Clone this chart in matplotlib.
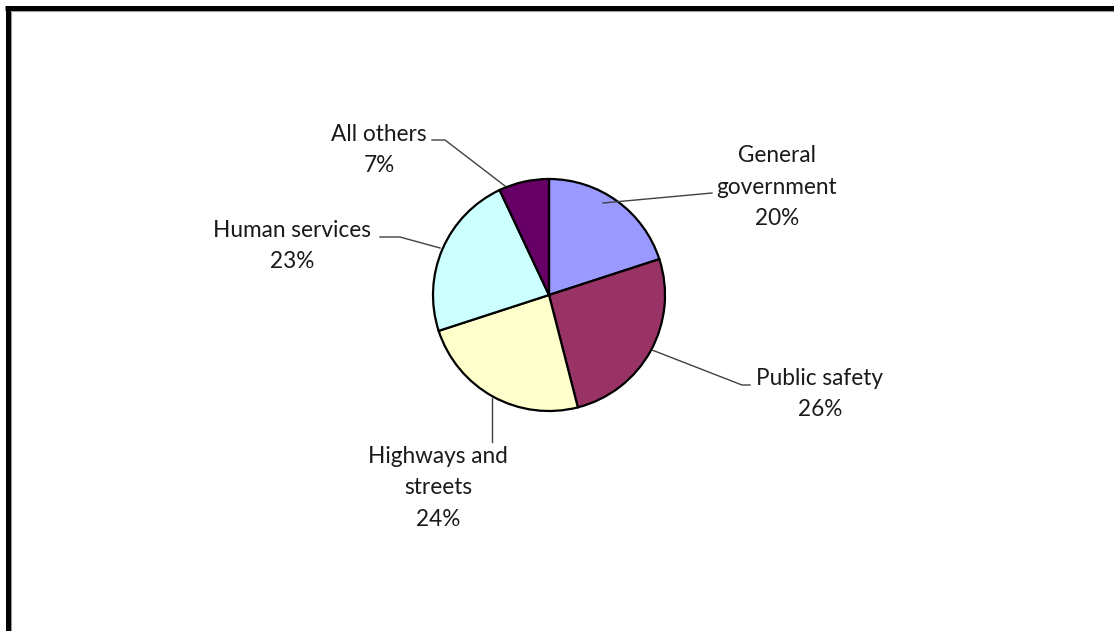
import matplotlib
matplotlib.use("Agg")
import matplotlib.pyplot as plt

categories = ["General\ngovernment", "Public safety", "Highways and\nstreets", "Human services", "All others"]
values = [20, 26, 24, 23, 7]
pct_labels = ["20%", "26%", "24%", "23%", "7%"]
colors = ["#9999FF", "#993366", "#FFFFCC", "#CCFFFF", "#660066"]

W, H = 1114, 631
fig = plt.figure(figsize=(W / 100, H / 100), dpi=100)
ax = fig.add_axes([0, 0, 1, 1])

def Y(y):
    return H - y

cx, cy, r = 549, 295, 116
ax.pie(values, colors=colors, startangle=90, counterclock=False,
       center=(cx, Y(cy)), radius=r, frame=True,
       wedgeprops=dict(edgecolor="black", linewidth=1.6))

ax.set_xlim(0, W)
ax.set_ylim(0, H)
ax.set_aspect("equal")
ax.axis("off")

# label positions (pixel coords of text center) and leader lines
label_pos = [(777, 187), (820, 394), (438, 488), (292, 246), (379, 150)]
leaders = [
    [(603, 203), (712, 193)],
    [(652, 350), (742, 385), (750, 385)],
    [(492, 398), (492, 442)],
    [(440, 248), (400, 237), (380, 237)],
    [(505, 186), (445, 140), (432, 140)],
]

font = ["Lato", "DejaVu Sans"]
for cat, pct, (tx, ty) in zip(categories, pct_labels, label_pos):
    ax.text(tx, Y(ty), cat + "\n" + pct, ha="center", va="center",
            fontsize=16.3, family=font, color="#1a1a1a", linespacing=1.64)

for pts in leaders:
    xs = [p[0] for p in pts]
    ys = [Y(p[1]) for p in pts]
    ax.plot(xs, ys, color="#404040", linewidth=1.0)

# border (open at right and bottom)
ax.plot([10.5, W], [Y(10.5), Y(10.5)], color="#999999", linewidth=0.8, solid_capstyle="butt")
ax.plot([10.5, 10.5], [Y(10.5), 0], color="#999999", linewidth=0.8, solid_capstyle="butt")
ax.plot([5, W], [Y(8), Y(8)], color="black", linewidth=3.6, solid_capstyle="butt")
ax.plot([7.5, 7.5], [Y(5.5), 0], color="black", linewidth=3.6, solid_capstyle="butt")

fig.savefig("out.png", dpi=100)
